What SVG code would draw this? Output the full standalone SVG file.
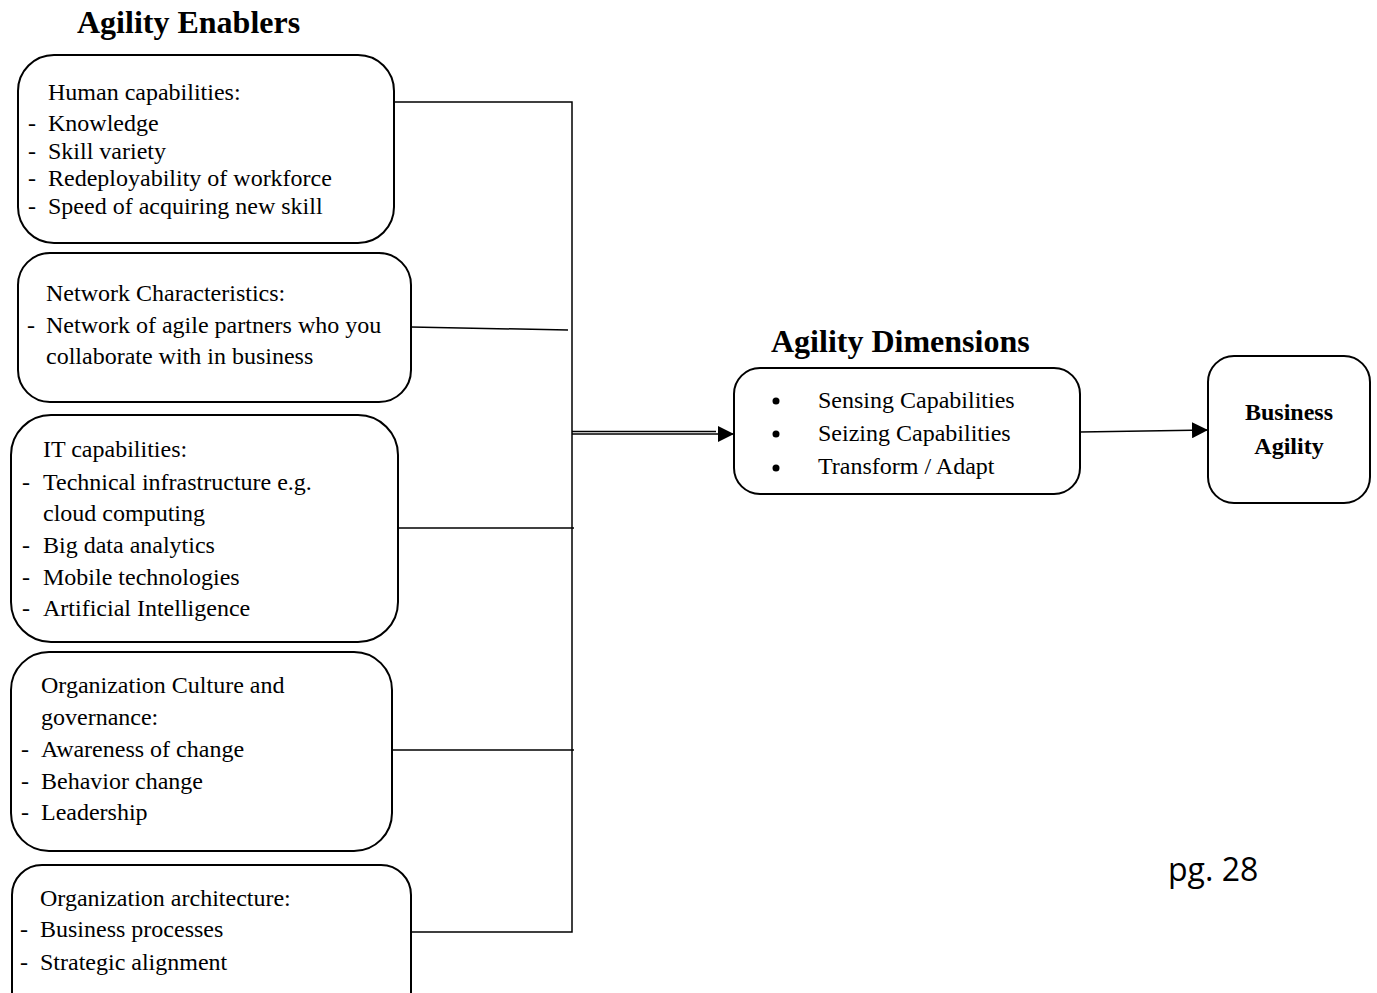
<svg xmlns="http://www.w3.org/2000/svg" width="1377" height="993" viewBox="0 0 1377 993">
  <defs>
    <style>
      .box { fill: #ffffff; stroke: #000000; stroke-width: 2; }
      .wire { fill: none; stroke: #000000; stroke-width: 1.5; }
      .t { font-family: "Liberation Serif", "Times New Roman", serif; font-size: 24px; fill: #000000; }
      .b { font-family: "Liberation Serif", "Times New Roman", serif; font-weight: bold; fill: #000000; }
      .pg { font-family: "Open Sans", "Liberation Sans", sans-serif; font-size: 32px; fill: #000000; }
    </style>
    <marker id="arrow" viewBox="0 0 10 10" refX="10" refY="5" markerWidth="16" markerHeight="16" markerUnits="userSpaceOnUse" orient="auto">
      <path d="M0,0 L10,5 L0,10 z" fill="#000000"/>
    </marker>
  </defs>
  <rect width="1377" height="993" fill="#ffffff"/>

  <text class="b" x="77" y="33" font-size="32">Agility Enablers</text>
  <text class="b" x="771" y="352" font-size="32">Agility Dimensions</text>

  <g id="connectors">
    <polyline class="wire" points="394,102 572,102 572,932 411,932"/>
    <line class="wire" x1="411" y1="327" x2="568" y2="330"/>
    <line class="wire" x1="398" y1="528" x2="574" y2="528"/>
    <line class="wire" x1="392" y1="750" x2="574" y2="750"/>
    <line class="wire" x1="572" y1="431.5" x2="716" y2="431.5"/>
    <line class="wire" x1="572" y1="434" x2="734" y2="434" marker-end="url(#arrow)"/>
    <line class="wire" x1="1080" y1="432" x2="1208" y2="430" marker-end="url(#arrow)"/>
  </g>

  <g id="human-capabilities">
    <rect class="box" x="18" y="55" width="376" height="188" rx="36"/>
    <text class="t" x="48" y="100">Human capabilities:</text>
    <text class="t" x="28" y="131">-</text><text class="t" x="48" y="131">Knowledge</text>
    <text class="t" x="28" y="159">-</text><text class="t" x="48" y="159">Skill variety</text>
    <text class="t" x="28" y="186">-</text><text class="t" x="48" y="186">Redeployability of workforce</text>
    <text class="t" x="28" y="214">-</text><text class="t" x="48" y="214">Speed of acquiring new skill</text>
  </g>

  <g id="network-characteristics">
    <rect class="box" x="18" y="253" width="393" height="149" rx="32"/>
    <text class="t" x="46" y="301">Network Characteristics:</text>
    <text class="t" x="27" y="333">-</text><text class="t" x="46" y="333">Network of agile partners who you</text>
    <text class="t" x="46" y="364">collaborate with in business</text>
  </g>

  <g id="it-capabilities">
    <rect class="box" x="11" y="415" width="387" height="227" rx="40"/>
    <text class="t" x="43" y="457">IT capabilities:</text>
    <text class="t" x="22" y="490">-</text><text class="t" x="43" y="490">Technical infrastructure e.g.</text>
    <text class="t" x="43" y="521">cloud computing</text>
    <text class="t" x="22" y="553">-</text><text class="t" x="43" y="553">Big data analytics</text>
    <text class="t" x="22" y="585">-</text><text class="t" x="43" y="585">Mobile technologies</text>
    <text class="t" x="22" y="616">-</text><text class="t" x="43" y="616">Artificial Intelligence</text>
  </g>

  <g id="org-culture">
    <rect class="box" x="11" y="652" width="381" height="199" rx="38"/>
    <text class="t" x="41" y="693">Organization Culture and</text>
    <text class="t" x="41" y="725">governance:</text>
    <text class="t" x="21" y="757">-</text><text class="t" x="41" y="757">Awareness of change</text>
    <text class="t" x="21" y="789">-</text><text class="t" x="41" y="789">Behavior change</text>
    <text class="t" x="21" y="820">-</text><text class="t" x="41" y="820">Leadership</text>
  </g>

  <g id="org-architecture">
    <rect class="box" x="12" y="865" width="399" height="160" rx="30"/>
    <text class="t" x="40" y="906">Organization architecture:</text>
    <text class="t" x="20" y="937">-</text><text class="t" x="40" y="937">Business processes</text>
    <text class="t" x="20" y="970">-</text><text class="t" x="40" y="970">Strategic alignment</text>
  </g>

  <g id="agility-dimensions">
    <rect class="box" x="734" y="368" width="346" height="126" rx="26"/>
    <circle cx="776" cy="401" r="3.5"/>
    <circle cx="776" cy="434" r="3.5"/>
    <circle cx="776" cy="468" r="3.5"/>
    <text class="t" x="818" y="408">Sensing Capabilities</text>
    <text class="t" x="818" y="441">Seizing Capabilities</text>
    <text class="t" x="818" y="474">Transform / Adapt</text>
  </g>

  <g id="business-agility">
    <rect class="box" x="1208" y="356" width="162" height="147" rx="26"/>
    <text class="b" x="1289" y="420" font-size="24" text-anchor="middle">Business</text>
    <text class="b" x="1289" y="454" font-size="24" text-anchor="middle">Agility</text>
  </g>

  <text class="pg" x="1168" y="881">pg. 28</text>
</svg>
